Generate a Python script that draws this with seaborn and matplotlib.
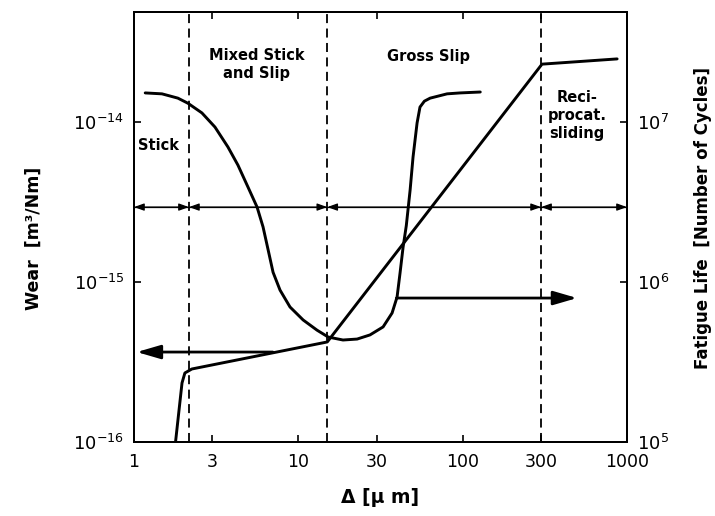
import seaborn as sns
import matplotlib.pyplot as plt
import matplotlib.ticker as mticker
import pandas as pd

# slip amplitude [um] vs fatigue life [cycles] (U shaped curve, right axis)
fat_slip = [1.17, 1.48, 1.85, 2.13, 2.59, 3.11, 3.73, 4.29, 4.94, 5.61, 6.1, 6.54, 7.02,
            7.74, 8.9, 10.7, 13.0, 15.2, 18.7, 22.8, 27.3, 32.8, 37.2, 39.9, 41.6,
            43.4, 45.4, 47.9, 49.9, 52.8, 55.0, 58.5, 63.4, 80.4, 96.5, 128]
fat_cycles = [1.52e7, 1.50e7, 1.41e7, 1.31e7, 1.14e7, 9.3e6, 6.98e6, 5.38e6, 3.92e6,
              2.94e6, 2.21e6, 1.6e6, 1.15e6, 8.9e5, 6.98e5, 5.79e5, 5.0e5, 4.53e5,
              4.34e5, 4.40e5, 4.67e5, 5.24e5, 6.40e5, 8.06e5, 1.14e6, 1.65e6, 2.25e6,
              3.76e6, 6.04e6, 9.86e6, 1.24e7, 1.35e7, 1.41e7, 1.50e7, 1.52e7, 1.54e7]

# slip amplitude [um] vs wear coefficient [m3/Nm] (left axis)
wear_slip = [1.78, 1.96, 2.04, 2.25, 15.0, 304, 871]
wear_rate = [9.5e-17, 2.34e-16, 2.70e-16, 2.86e-16, 4.22e-16, 2.30e-14, 2.48e-14]

# regime boundaries
bounds = [1, 2.16, 15, 300, 1000]
regimes = ["Stick", "Mixed Stick\nand Slip", "Gross Slip", "Reci-\nprocat.\nsliding"]

x_ticks = [1, 3, 10, 30, 100, 300, 1000]
wear_ticks = [1e-16, 1e-15, 1e-14]
wear_labels = [r"$10^{-16}$", r"$10^{-15}$", r"$10^{-14}$"]
cyc_ticks = [1e5, 1e6, 1e7]
cyc_labels = [r"$10^{5}$", r"$10^{6}$", r"$10^{7}$"]

sns.set_theme(style="ticks")
plt.rcParams["font.family"] = ["DejaVu Sans"]
plt.rcParams["mathtext.default"] = "regular"
plt.rcParams["text.color"] = "black"
plt.rcParams["axes.labelcolor"] = "black"

fig = plt.figure(figsize=(7.15, 5.16), dpi=100)
ax = fig.add_axes([0.1874, 0.1434, 0.6895, 0.8333])
ax2 = ax.twinx()

ax.set_xscale("log")
ax.set_yscale("log")
ax2.set_yscale("log")
ax.set_xlim(1, 1000)
ax.set_ylim(1e-16, 10 ** -13.3125)
ax2.set_ylim(1e5, 10 ** 7.6875)

df_wear = pd.DataFrame({"slip": wear_slip, "wear": wear_rate})
df_fat = pd.DataFrame({"slip": fat_slip, "cycles": fat_cycles})
sns.lineplot(data=df_wear, x="slip", y="wear", ax=ax, color="black", lw=2.1,
             sort=False, estimator=None)
sns.lineplot(data=df_fat, x="slip", y="cycles", ax=ax2, color="black", lw=2.1,
             sort=False, estimator=None)

# dashed regime boundaries
for b in bounds[1:4]:
    ax.axvline(b, color="black", lw=1.3, ls=(0, (5, 3)))

# regime arrows
band_y = 2.94e-15
ax.axhline(band_y, color="black", lw=0.9)
for lo, hi in zip(bounds[:-1], bounds[1:]):
    ax.annotate("", xy=(lo, band_y), xytext=(hi, band_y),
                arrowprops=dict(arrowstyle="<|-|>,head_length=0.5,head_width=0.18",
                                color="black", lw=0.9, shrinkA=0, shrinkB=0))

# axis pointers
ax.annotate("", xy=(1.04, 3.65e-16), xytext=(7.0, 3.65e-16),
            arrowprops=dict(arrowstyle="-|>,head_length=1.2,head_width=0.35",
                            color="black", lw=2.0, shrinkA=0, shrinkB=0))
ax2.annotate("", xy=(497, 7.94e5), xytext=(39.5, 7.94e5),
             arrowprops=dict(arrowstyle="-|>,head_length=1.2,head_width=0.35",
                             color="black", lw=2.0, shrinkA=0, shrinkB=0))

# regime names
kw = dict(fontsize=10.5, fontweight="bold", linespacing=1.25)
ax.text(1.06, 7.1e-15, regimes[0], ha="left", va="center", **kw)
ax.text(5.6, 2.3e-14, regimes[1], ha="center", va="center", **kw)
ax.text(61.6, 2.58e-14, regimes[2], ha="center", va="center", **kw)
ax.text(497, 1.1e-14, regimes[3], ha="center", va="center", **kw)

# ticks
ax.xaxis.set_major_locator(mticker.FixedLocator(x_ticks))
ax.xaxis.set_major_formatter(mticker.FixedFormatter([str(t) for t in x_ticks]))
ax.xaxis.set_minor_locator(mticker.NullLocator())
ax.yaxis.set_major_locator(mticker.FixedLocator(wear_ticks))
ax.yaxis.set_major_formatter(mticker.FixedFormatter(wear_labels))
ax.yaxis.set_minor_locator(mticker.NullLocator())
ax2.yaxis.set_major_locator(mticker.FixedLocator(cyc_ticks))
ax2.yaxis.set_major_formatter(mticker.FixedFormatter(cyc_labels))
ax2.yaxis.set_minor_locator(mticker.NullLocator())

ax.tick_params(axis="x", which="both", direction="in", top=True, length=5,
               width=1.2, labelsize=12.5, pad=8, colors="black")
ax.tick_params(axis="y", direction="in", length=5, width=1.2, labelsize=13,
               pad=7, colors="black")
ax2.tick_params(axis="y", direction="in", length=5, width=1.2, labelsize=13,
                pad=7, colors="black")

for a in (ax, ax2):
    for s in a.spines.values():
        s.set_color("black")
        s.set_linewidth(1.4)

ax.set_xlabel("Δ [μ m]", fontsize=13.5, fontweight="bold")
ax.xaxis.set_label_coords(0.5, -0.108)
ax.set_ylabel("Wear  [m³/Nm]", fontsize=12.5, fontweight="bold")
ax.yaxis.set_label_coords(-0.185, 0.474)
ax2.set_ylabel("Fatigue Life  [Number of Cycles]", fontsize=12, fontweight="bold")
ax2.yaxis.set_label_coords(1.135, 0.521)

fig.savefig("out.png", dpi=100)
